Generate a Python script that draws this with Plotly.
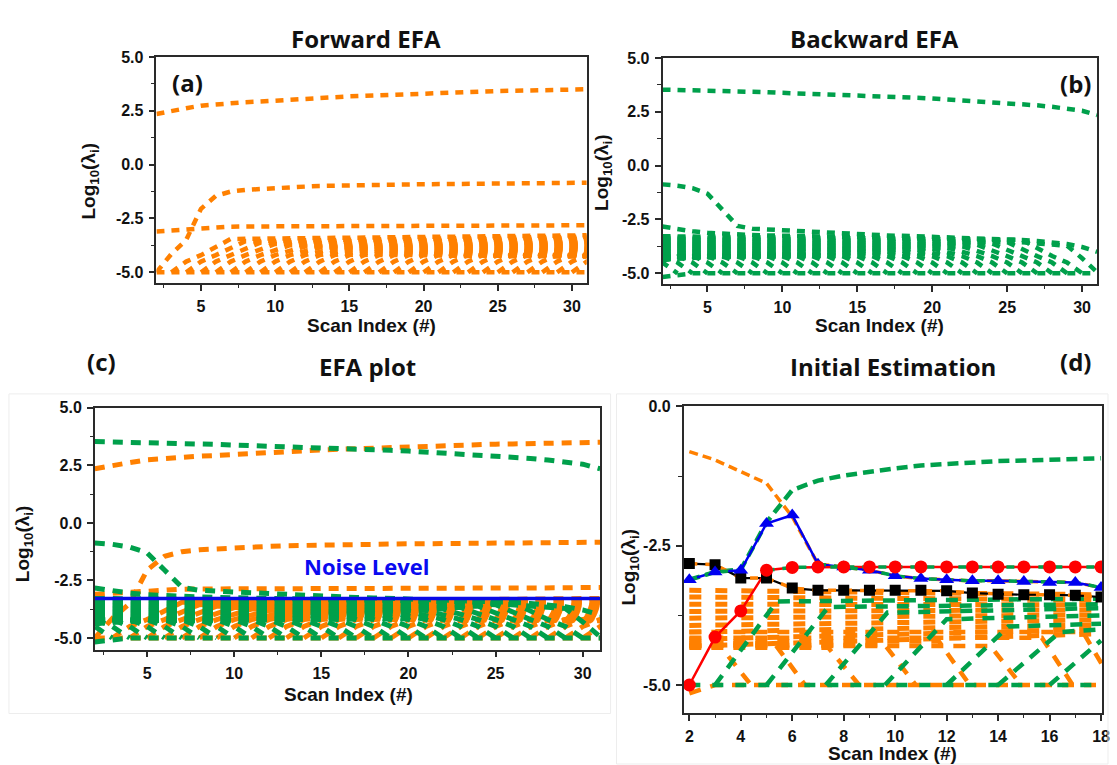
import plotly.graph_objects as go

# ---------------------------------------------------------------- data
scan_index = list(range(2, 32))
noise_floor = -5.0

# forward EFA (orange): log10 eigenvalues vs scan index
fwd_top = [2.35, 2.50, 2.62, 2.74, 2.81, 2.86, 2.90, 2.93, 2.96, 3.00,
           3.04, 3.08, 3.13, 3.17, 3.20, 3.23, 3.26, 3.29, 3.32, 3.34,
           3.36, 3.38, 3.40, 3.42, 3.43, 3.44, 3.45, 3.46, 3.48, 3.50]
fwd_second = [-5.00, -4.15, -3.50, -2.05, -1.45, -1.25, -1.17, -1.12, -1.08, -1.05,
              -1.02, -0.99, -0.97, -0.96, -0.95, -0.94, -0.93, -0.92, -0.91, -0.90,
              -0.89, -0.88, -0.87, -0.87, -0.86, -0.86, -0.85, -0.85, -0.84, -0.84]
fwd_third = [-3.10, -3.06, -3.00, -2.93, -2.89, -2.88, -2.87, -2.87, -2.86, -2.86,
             -2.86, -2.86, -2.85, -2.85, -2.85, -2.85, -2.84, -2.84, -2.84, -2.84,
             -2.83, -2.83, -2.83, -2.83, -2.82, -2.82, -2.82, -2.82, -2.81, -2.81]
# noise eigenvalues: each appears at the floor, climbs over two scans,
# reaches its level a little later and then drifts up slowly
noise_climb = [-5.0, -4.5, -4.2]
fwd_noise_onset = [3, 4, 5, 6, 7, 8, 9, 10, 11, 12, 13, 14, 15, 16,
                   17, 18, 19, 20, 21, 22, 23, 24, 25, 26, 27, 28, 29, 30]
fwd_noise_knee = [-3.45, -3.55, -3.62, -3.68, -3.74, -3.80, -3.85, -3.90, -3.95, -4.00,
                  -4.04, -4.08, -4.12, -4.15, -4.18, -4.21, -4.24, -4.20, -4.23, -4.25,
                  -4.22, -4.24, -4.26, -4.23, -4.25, -4.27, -4.25, -4.28]
fwd_noise_end = [-3.28, -3.34, -3.40, -3.46, -3.52, -3.58, -3.63, -3.68, -3.73, -3.78,
                 -3.83, -3.88, -3.93, -3.98, -4.03, -4.08, -4.13, -4.16, -4.19, -4.22,
                 -4.22, -4.24, -4.26, -4.23, -4.25, -4.27, -4.25, -4.28]

# backward EFA (green)
bwd_top = [3.53, 3.52, 3.51, 3.50, 3.48, 3.46, 3.44, 3.41, 3.38, 3.36,
           3.34, 3.32, 3.30, 3.27, 3.24, 3.21, 3.18, 3.15, 3.12, 3.08,
           3.05, 3.01, 2.97, 2.92, 2.87, 2.80, 2.73, 2.65, 2.55, 2.35]
bwd_second = [-0.87, -0.93, -1.05, -1.30, -2.05, -2.80, -2.93, -2.97, -3.00, -3.04,
              -3.08, -3.12, -3.16, -3.20, -3.22, -3.24, -3.26, -3.28, -3.30, -3.32,
              -3.34, -3.36, -3.38, -3.41, -3.45, -3.50, -3.56, -3.64, -3.78, -4.00]
bwd_third = [-2.83, -2.95, -3.05, -3.12, -3.17, -3.20, -3.22, -3.24, -3.25, -3.26,
             -3.27, -3.28, -3.29, -3.30, -3.31, -3.32, -3.33, -3.34, -3.35, -3.37,
             -3.39, -3.42, -3.45, -3.50, -3.56, -3.62, -3.68, -3.72, -4.30, -4.95]
bwd_noise_end_x = [30, 29, 28, 27, 26, 25, 24, 23, 22, 21, 20, 19, 18, 17,
                   16, 15, 14, 13, 12, 11, 10, 9, 8, 7, 6, 5, 4, 3]
bwd_noise_start = [-3.28, -3.34, -3.40, -3.46, -3.52, -3.58, -3.63, -3.68, -3.73, -3.78,
                   -3.83, -3.88, -3.93, -3.98, -4.03, -4.08, -4.13, -4.18, -4.22, -4.26,
                   -4.30, -4.34, -4.38, -4.41, -4.44, -4.47, -4.50, -4.50]
bwd_noise_knee = [-3.45, -3.55, -3.62, -3.68, -3.74, -3.80, -3.85, -3.90, -3.95, -4.00,
                  -4.04, -4.08, -4.12, -4.15, -4.18, -4.21, -4.24, -4.22, -4.25, -4.23,
                  -4.26, -4.24, -4.25, -4.22, -4.25, -4.24, -4.25, -4.25]
bwd_floor_x = [2, 4, 31]
bwd_floor_y = [-5.17, -5.00, -5.00]

noise_level = -3.28

# initial estimation panel
est_scan = list(range(2, 19))
est_black = [-2.82, -2.84, -3.08, -3.08, -3.26, -3.30, -3.30, -3.30, -3.30,
             -3.30, -3.31, -3.35, -3.37, -3.38, -3.38, -3.39, -3.42]
est_blue = [-3.11, -2.97, -2.94, -2.10, -1.95, -2.83, -2.88, -2.94, -3.04,
            -3.09, -3.11, -3.13, -3.13, -3.14, -3.16, -3.16, -3.25]
est_red = [-5.00, -4.14, -3.67, -2.94, -2.89, -2.88, -2.88, -2.88, -2.88,
           -2.88, -2.88, -2.88, -2.88, -2.88, -2.88, -2.88, -2.88]
est_bwd_top = [-0.81, -0.96, -1.17, -1.38, -1.98, -2.83, -2.88, -2.94, -3.04,
               -3.09, -3.11, -3.13, -3.13, -3.14, -3.16, -3.16, -3.25]
est_fwd_top = [-3.11, -2.97, -2.93, -2.08, -1.50, -1.33, -1.24, -1.17, -1.11,
               -1.06, -1.03, -1.00, -0.98, -0.97, -0.95, -0.94, -0.93]
est_band_start = [-3.30, -3.42, -3.55, -3.68, -3.80, -3.93, -4.05, -4.18, -4.30]
est_band_end = [-3.38, -3.47, -3.56, -3.65, -3.74, -3.83, -3.92, -4.00, -4.08]
est_drop_span = 1.2
est_drop_level = [-4.30, -4.25, -4.33, -4.28, -4.22, -4.30, -4.15, -4.05]
est_drop_end_x = [4.4, 6.5, 8.6, 10.8, 12.9, 14.9, 16.9, 18.5]
est_rise_span = 2.4
est_rise_onset = [3.0, 5.0, 7.3, 9.6, 12.0, 14.0, 16.0]
est_rise_level = [-3.50, -3.60, -3.70, -3.82, -3.95, -4.05, -4.20]
est_rise_end = [-3.45, -3.55, -3.62, -3.75, -3.90, -4.00, -4.20]
est_floor_or_x = [2, 3, 18]
est_floor_or_y = [-5.15, -5.00, -5.00]

# ---------------------------------------------------------------- style
W, H = 1117, 765
ORANGE = "#FF8000"
GREEN = "#00A04B"
AX = "#2a2a2a"
TICKFONT = dict(family="Liberation Sans, Arial", size=16, color="#111", weight="bold")
TITLEFONT = dict(family="Open Sans", size=24, color="#111", weight="bold")
LABELFONT = dict(family="Liberation Sans, Arial", size=19, color="#111", weight="bold")


def fx(p):
    return p / W


def fy(p):
    return 1 - p / H


fig = go.Figure()


def add_line(x, y, ax, color, width, dash=None):
    fig.add_trace(go.Scatter(
        x=x, y=y, xaxis="x" + ax, yaxis="y" + ax, mode="lines",
        line=dict(color=color, width=width, dash=dash or "solid"),
        hoverinfo="skip", showlegend=False))


def add_forward(ax, width, dash):
    for k, knee, end in zip(fwd_noise_onset, fwd_noise_knee, fwd_noise_end):
        xs = [k, k + 1, k + 2, k + 4]
        ys = noise_climb + [knee]
        if k + 4 < 31:
            xs.append(31)
            ys.append(end)
        add_line(xs, ys, ax, ORANGE, width, dash)
    add_line([2, 31], [noise_floor, noise_floor], ax, ORANGE, width, dash)
    add_line(scan_index, fwd_third, ax, ORANGE, width, dash)
    add_line(scan_index, fwd_second, ax, ORANGE, width, dash)
    add_line(scan_index, fwd_top, ax, ORANGE, width, dash)


def add_backward(ax, width, dash):
    # mirror image of the forward climb: level off, then fall to the floor
    for e, s, knee in zip(bwd_noise_end_x, bwd_noise_start, bwd_noise_knee):
        xs = [e - 4, e - 2, e - 1, e]
        ys = [knee] + noise_climb[::-1][:2] + [noise_climb[0]]
        if e - 4 > 2:
            xs.insert(0, 2)
            ys.insert(0, s)
        add_line(xs, ys, ax, GREEN, width, dash)
    add_line(bwd_floor_x, bwd_floor_y, ax, GREEN, width, dash)
    add_line(scan_index, bwd_third, ax, GREEN, width, dash)
    add_line(scan_index, bwd_second, ax, GREEN, width, dash)
    add_line(scan_index, bwd_top, ax, GREEN, width, dash)


# (a) forward
add_forward("", 4.5, "8px,7px")
# (b) backward
add_backward("2", 4.5, "8px,7px")
# (c) both plus the noise level
add_forward("3", 5, "10px,8px")
add_backward("3", 5, "10px,8px")
add_line([2, 31], [noise_level, noise_level], "3", "#0A0AE6", 3.5)

# (d) initial estimation
for s, e in zip(est_band_start, est_band_end):
    add_line([2, 18], [s, e], "4", ORANGE, 5, "12px,14px")
for lvl, e in zip(est_drop_level, est_drop_end_x):
    add_line([2, e - est_drop_span, e], [lvl, lvl, noise_floor], "4", ORANGE, 4.5, "12px,10px")
add_line(est_floor_or_x, est_floor_or_y, "4", ORANGE, 4.5, "12px,10px")
for o, lvl, end in zip(est_rise_onset, est_rise_level, est_rise_end):
    kx = o + est_rise_span
    if kx < 18:
        add_line([o, kx, 18], [noise_floor, lvl, end], "4", GREEN, 4.5, "12px,9px")
    else:
        add_line([o, 18], [noise_floor, lvl], "4", GREEN, 4.5, "12px,9px")
add_line([2, 18], [noise_floor, noise_floor], "4", GREEN, 4.5, "11px,12px")
add_line(est_scan, est_bwd_top, "4", ORANGE, 3.5, "9px,5px")
add_line(est_scan, est_fwd_top, "4", GREEN, 4.5, "11px,6px")

# connecting lines of the estimates
add_line(est_scan, est_black, "4", "#000000", 2.2)
add_line(est_scan, est_blue, "4", "#0000F0", 2.5)
add_line(est_scan, est_red, "4", "#FF0000", 2.5)
# eigenvalue curves running along the estimates
add_line(est_scan, est_black, "4", ORANGE, 3.5, "8px,8px")
add_line(est_scan[:3] + [None] + est_scan[5:], est_blue[:3] + [None] + est_blue[5:],
         "4", GREEN, 3.5, "8px,8px")
add_line(est_scan[3:], est_red[3:], "4", GREEN, 3.5, "8px,8px")

for ys, sym, col, size in [(est_black, "square", "#000000", 11),
                           (est_blue, "triangle-up", "#0000F0", 13),
                           (est_red, "circle", "#FF0000", 13)]:
    fig.add_trace(go.Scatter(
        x=est_scan, y=ys, xaxis="x4", yaxis="y4", mode="markers",
        marker=dict(symbol=sym, color=col, size=size, line=dict(width=0)),
        hoverinfo="skip", showlegend=False))

# ---------------------------------------------------------------- axes
panels = {
    "": dict(x=(157.6, 591.0), y=(49.5, 278.0), xr=[2, 31], yr=[-5.5, 5]),
    "2": dict(x=(667.3, 1105.0), y=(50.5, 279.0), xr=[2, 31], yr=[-5.5, 5]),
    "3": dict(x=(95.5, 604.5), y=(404.0, 648.3), xr=[2, 31], yr=[-5.5, 5]),
    "4": dict(x=(688.6, 1110.0), y=(402.7, 712.3), xr=[1.78, 18.04], yr=[-5.5, 0]),
}

scan_ticks = [5, 10, 15, 20, 25, 30]
scan_minor = [2.5, 7.5, 12.5, 17.5, 22.5, 27.5]
log_ticks = [-5, -2.5, 0, 2.5, 5]
log_minor = [-3.75, -1.25, 1.25, 3.75]
est_ticks = [2, 4, 6, 8, 10, 12, 14, 16, 18]
est_minor = [3, 5, 7, 9, 11, 13, 15, 17]
est_log_ticks = [-5, -2.5, 0]
est_log_minor = [-3.75, -1.25]


def axis(domain, rng, anchor, tv, minor_tv, fmt):
    return dict(
        domain=domain, range=rng, anchor=anchor,
        showline=True, mirror=True, linecolor=AX, linewidth=1.6,
        ticks="outside", ticklen=6, tickwidth=1.6, tickcolor=AX,
        tickvals=tv, ticktext=[fmt(v) for v in tv],
        minor=dict(tickvals=minor_tv, ticks="outside", ticklen=3.5,
                   tickwidth=1.4, tickcolor=AX, showgrid=False),
        showgrid=False, zeroline=False, tickfont=TICKFONT,
        ticklabelstandoff=2, ticklabeloverflow="allow", fixedrange=True)


layout = dict(width=W, height=H, margin=dict(l=0, r=0, t=0, b=0),
              paper_bgcolor="white", plot_bgcolor="white", showlegend=False)
for k, p in panels.items():
    xd = [fx(p["x"][0]), fx(p["x"][1])]
    yd = [fy(p["y"][1]), fy(p["y"][0])]
    if k == "4":
        xt, xm, yt, ym = est_ticks, est_minor, est_log_ticks, est_log_minor
    else:
        xt, xm, yt, ym = scan_ticks, scan_minor, log_ticks, log_minor
    layout["xaxis" + k] = axis(xd, p["xr"], "y" + k, xt, xm, lambda v: "%d" % v)
    layout["yaxis" + k] = axis(yd, p["yr"], "x" + k, yt, ym, lambda v: "%.1f" % v)

fig.update_layout(**layout)


# ---------------------------------------------------------------- text
def text(x, y, s, font, angle=0):
    fig.add_annotation(x=fx(x), y=fy(y), xref="paper", yref="paper", text=s,
                       showarrow=False, xanchor="center", yanchor="middle",
                       font=font, textangle=angle)


ytitle = "Log<sub>10</sub>(λ<sub>i</sub>)"
text(369, 31, "Forward EFA", TITLEFONT)
text(881, 31, "Backward EFA", TITLEFONT)
text(370, 362, "EFA plot", TITLEFONT)
text(899, 362, "Initial Estimation", TITLEFONT)
text(189, 75, "(a)", TITLEFONT)
text(1083, 76, "(b)", TITLEFONT)
text(102, 357, "(c)", TITLEFONT)
text(1083, 357, "(d)", TITLEFONT)
text(370, 564, "Noise Level", dict(family="Open Sans", size=22, color="#0A0AF0", weight="bold"))

for cx, cy in [(374, 321), (886, 321), (351, 694), (899, 753)]:
    text(cx, cy, "Scan Index (#)", LABELFONT)
for cx, cy in [(91, 175), (608, 166), (25, 541), (635, 565)]:
    text(cx, cy, ytitle, LABELFONT, -90)

# faint frames around the lower two panels
fig.add_shape(type="rect", xref="paper", yref="paper", x0=fx(9), x1=fx(615),
              y0=fy(713), y1=fy(390), line=dict(color="#ededed", width=1))
fig.add_shape(type="rect", xref="paper", yref="paper", x0=fx(621), x1=fx(1116),
              y0=fy(764), y1=fy(390), line=dict(color="#ededed", width=1))

fig.write_html("out.html")
